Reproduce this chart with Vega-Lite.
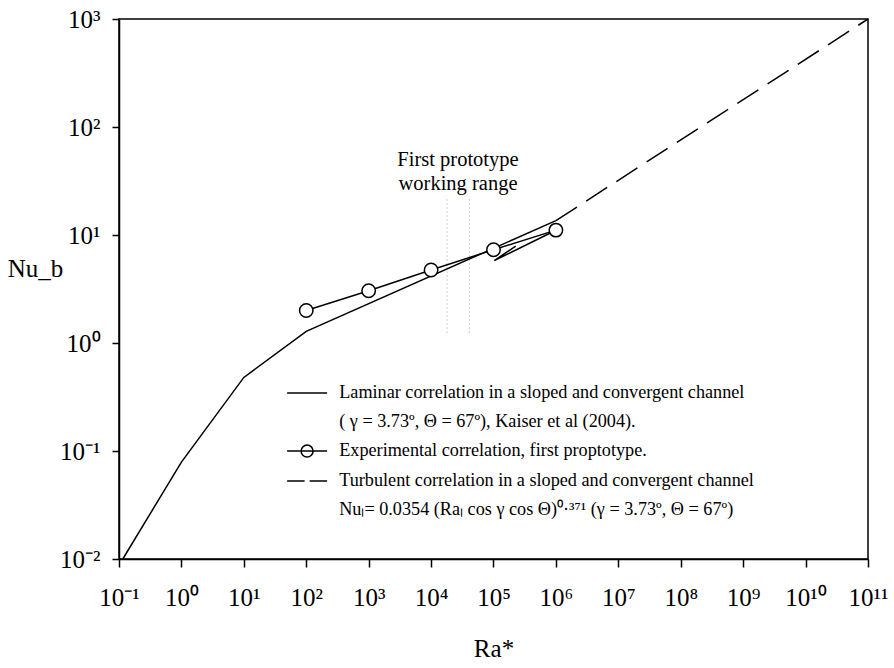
{
  "$schema": "https://vega.github.io/schema/vega-lite/v6.json",
  "width": 749,
  "height": 540,
  "autosize": {"type": "none"},
  "padding": {"left": 119, "top": 19, "right": 26, "bottom": 109},
  "background": "white",
  "config": {
    "view": {"stroke": "black", "strokeWidth": 1.5},
    "font": "Liberation Serif",
    "axis": {"grid": false}
  },
  "datasets": {
    "lines": [
      {"series": "Laminar", "i": 1, "ra": 0.115, "nu": 0.01},
      {"series": "Laminar", "i": 2, "ra": 1, "nu": 0.079},
      {"series": "Laminar", "i": 3, "ra": 10, "nu": 0.48},
      {"series": "Laminar", "i": 4, "ra": 100, "nu": 1.28},
      {"series": "Laminar", "i": 5, "ra": 1000000, "nu": 13.6},
      {"series": "Experimental", "i": 1, "ra": 100, "nu": 2.0},
      {"series": "Experimental", "i": 2, "ra": 1000, "nu": 3.05},
      {"series": "Experimental", "i": 3, "ra": 10000, "nu": 4.75},
      {"series": "Experimental", "i": 4, "ra": 100000, "nu": 7.3},
      {"series": "Experimental", "i": 5, "ra": 1000000, "nu": 11.1},
      {"series": "Turbulent", "i": 1, "ra": 1000000, "nu": 13.6},
      {"series": "Turbulent", "i": 2, "ra": 100000000000, "nu": 1000},
      {"series": "Artifact", "i": 1, "ra": 227000, "nu": 7.9},
      {"series": "Artifact", "i": 2, "ra": 103000, "nu": 5.8},
      {"series": "Artifact", "i": 3, "ra": 830000, "nu": 10.5}
    ],
    "range": [
      {"ra": 18000, "lo": 1.25, "hi": 21.7},
      {"ra": 41000, "lo": 1.25, "hi": 21.7}
    ],
    "note": [
      {"ra": 27000, "nu": 50, "text": "First prototype"},
      {"ra": 27000, "nu": 29.9, "text": "working range"}
    ]
  },
  "layer": [
    {
      "data": {"name": "range"},
      "mark": {"type": "rule", "color": "#9a9a9a", "strokeWidth": 1, "strokeDash": [1, 3]},
      "encoding": {
        "x": {
          "field": "ra", "type": "quantitative",
          "scale": {"type": "log", "domain": [0.1, 100000000000], "nice": false},
          "axis": {
            "values": [0.1, 1, 10, 100, 1000, 10000, 100000, 1000000, 10000000, 100000000, 1000000000, 10000000000, 100000000000],
            "labelExpr": "'10' + (round(log(datum.value)/LN10) < 0 ? '⁻' : '') + (abs(round(log(datum.value)/LN10)) >= 10 ? '¹' : '') + substring('⁰¹²³⁴⁵⁶⁷⁸⁹', abs(round(log(datum.value)/LN10)) % 10, abs(round(log(datum.value)/LN10)) % 10 + 1)",
            "labelFont": "Liberation Serif",
            "labelFontSize": 25,
            "labelColor": "black",
            "labelPadding": 18,
            "labelFlush": false,
            "labelOverlap": false,
            "labelBound": false,
            "tickSize": 8,
            "tickWidth": 1.5,
            "tickColor": "black",
            "domainColor": "black",
            "domainWidth": 1.5,
            "title": "Ra*",
            "titleFont": "Liberation Serif",
            "titleFontSize": 25,
            "titleFontWeight": "normal",
            "titleColor": "black",
            "titleY": 89,
            "titleBaseline": "middle"
          }
        },
        "y": {
          "field": "lo", "type": "quantitative",
          "scale": {"type": "log", "domain": [0.01, 1000], "nice": false},
          "axis": {
            "values": [0.01, 0.1, 1, 10, 100, 1000],
            "labelExpr": "'10' + (round(log(datum.value)/LN10) < 0 ? '⁻' : '') + substring('⁰¹²³⁴⁵⁶⁷⁸⁹', abs(round(log(datum.value)/LN10)) % 10, abs(round(log(datum.value)/LN10)) % 10 + 1)",
            "labelFont": "Liberation Serif",
            "labelFontSize": 25,
            "labelColor": "black",
            "labelPadding": 12,
            "labelFlush": false,
            "labelOverlap": false,
            "labelBound": false,
            "tickSize": 7,
            "tickWidth": 1.5,
            "tickColor": "black",
            "domainColor": "black",
            "domainWidth": 1.5,
            "title": "Nu_b",
            "titleFont": "Liberation Serif",
            "titleFontSize": 25,
            "titleFontWeight": "normal",
            "titleColor": "black",
            "titleAngle": 0,
            "titleAlign": "center",
            "titleBaseline": "middle",
            "titleX": -84,
            "titleY": 249
          }
        },
        "y2": {"field": "hi"}
      }
    },
    {
      "data": {"name": "note"},
      "mark": {"type": "text", "fontSize": 20.5, "font": "Liberation Serif", "color": "black", "align": "center", "baseline": "middle"},
      "encoding": {
        "x": {"field": "ra", "type": "quantitative"},
        "y": {"field": "nu", "type": "quantitative"},
        "text": {"field": "text"}
      }
    },
    {
      "data": {"name": "lines"},
      "transform": [{"filter": "datum.series !== 'Turbulent'"}],
      "mark": {"type": "line", "color": "black", "strokeWidth": 1.5},
      "encoding": {
        "x": {"field": "ra", "type": "quantitative"},
        "y": {"field": "nu", "type": "quantitative"},
        "detail": {"field": "series"},
        "order": {"field": "i"}
      }
    },
    {
      "data": {"name": "lines"},
      "transform": [{"filter": "datum.series === 'Turbulent'"}],
      "mark": {"type": "line", "color": "black", "strokeWidth": 1.5, "strokeDash": [25, 11]},
      "encoding": {
        "x": {"field": "ra", "type": "quantitative"},
        "y": {"field": "nu", "type": "quantitative"},
        "order": {"field": "i"}
      }
    },
    {
      "data": {"name": "lines"},
      "transform": [{"filter": "datum.series === 'Experimental'"}],
      "mark": {"type": "point", "shape": "circle", "filled": true, "fill": "white", "stroke": "black", "strokeWidth": 1.5, "size": 180, "opacity": 1},
      "encoding": {
        "x": {"field": "ra", "type": "quantitative"},
        "y": {"field": "nu", "type": "quantitative"}
      }
    },
    {
      "data": {"name": "lines"},
      "transform": [{"filter": "datum.series !== 'Artifact'"}],
      "mark": {"type": "point", "opacity": 0, "size": 100},
      "encoding": {
        "x": {"field": "ra", "type": "quantitative"},
        "y": {"field": "nu", "type": "quantitative"},
        "shape": {
          "field": "series",
          "type": "nominal",
          "scale": {
            "domain": ["Laminar", "Laminar (cont.)", "Experimental", "Turbulent", "Turbulent (cont.)"],
            "range": [
              "M-4,0H4",
              "M0,0Z",
              "M-4,0H4M-1.2,0A1.2,1.2 0 1,1 1.2,0A1.2,1.2 0 1,1 -1.2,0",
              "M-4,0H-0.5M0.5,0H4",
              "M0,0Z"
            ]
          },
          "legend": {
            "title": null,
            "orient": "none",
            "legendX": 179,
            "legendY": 365,
            "symbolSize": 100,
            "symbolOpacity": 1,
            "symbolStrokeColor": "black",
            "symbolFillColor": "transparent",
            "symbolStrokeWidth": 1.5,
            "labelFont": "Liberation Serif",
            "labelFontSize": 18.2,
            "labelColor": "black",
            "labelOffset": 23,
            "labelLimit": 0,
            "rowPadding": 10,
            "labelBaseline": "middle",
            "labelExpr": "datum.value === 'Laminar' ? 'Laminar correlation in a sloped and convergent channel' : datum.value === 'Laminar (cont.)' ? ' ( γ = 3.73º, Θ = 67º), Kaiser et al (2004).' : datum.value === 'Experimental' ? 'Experimental correlation, first proptotype.' : datum.value === 'Turbulent' ? 'Turbulent correlation in a sloped and convergent channel' : 'Nuₗ= 0.0354 (Raₗ cos γ cos Θ)⁰·³⁷¹ (γ = 3.73º, Θ = 67º)'"
          }
        }
      }
    }
  ]
}
